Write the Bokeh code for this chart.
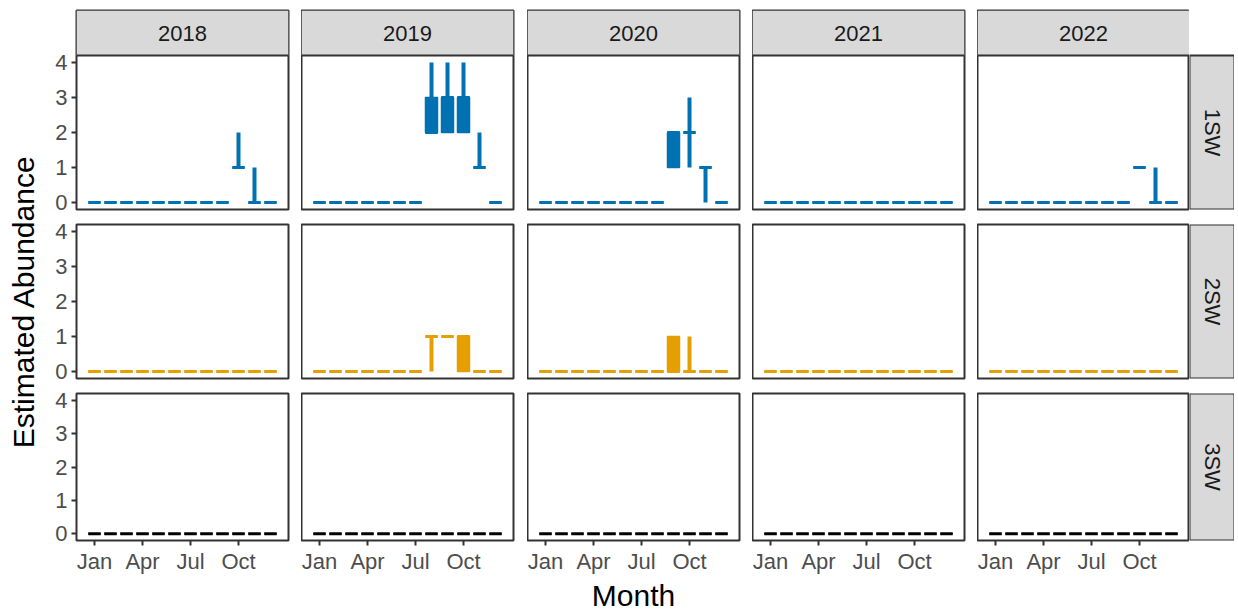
import math
from bokeh.plotting import figure
from bokeh.models import (ColumnDataSource, FixedTicker, Range1d, BoxAnnotation,
                          Span, Label)
from bokeh.layouts import row, column
from bokeh.embed import file_html
from bokeh.resources import INLINE
from bokeh.core.properties import value

# ---------------- data ----------------
years = [2018, 2019, 2020, 2021, 2022]
stages = ["1SW", "2SW", "3SW"]
stage_colors = ["#0072B2", "#E69F00", "#000000"]
month_index = [0, 1, 2, 3, 4, 5, 6, 7, 8, 9, 10, 11]
tick_months = [0, 3, 6, 9]
tick_labels = ["Jan", "Apr", "Jul", "Oct"]
y_ticks = [0, 1, 2, 3, 4]
y_title = "Estimated Abundance"
x_title = "Month"

zeros = [0, 0, 0, 0, 0, 0, 0, 0, 0, 0, 0, 0]

# 1SW
sw1_2018 = dict(lower=[0, 0, 0, 0, 0, 0, 0, 0, 0, 1, 0, 0],
                q1=[0, 0, 0, 0, 0, 0, 0, 0, 0, 1, 0, 0],
                med=[0, 0, 0, 0, 0, 0, 0, 0, 0, 1, 0, 0],
                q3=[0, 0, 0, 0, 0, 0, 0, 0, 0, 1, 0, 0],
                upper=[0, 0, 0, 0, 0, 0, 0, 0, 0, 2, 1, 0])
sw1_2019 = dict(lower=[0, 0, 0, 0, 0, 0, 0, 2, 2, 2, 1, 0],
                q1=[0, 0, 0, 0, 0, 0, 0, 2, 2, 2, 1, 0],
                med=[0, 0, 0, 0, 0, 0, 0, 2, 3, 3, 1, 0],
                q3=[0, 0, 0, 0, 0, 0, 0, 3, 3, 3, 1, 0],
                upper=[0, 0, 0, 0, 0, 0, 0, 4, 4, 4, 2, 0])
sw1_2020 = dict(lower=[0, 0, 0, 0, 0, 0, 0, 0, 1, 1, 0, 0],
                q1=[0, 0, 0, 0, 0, 0, 0, 0, 1, 2, 1, 0],
                med=[0, 0, 0, 0, 0, 0, 0, 0, 2, 2, 1, 0],
                q3=[0, 0, 0, 0, 0, 0, 0, 0, 2, 2, 1, 0],
                upper=[0, 0, 0, 0, 0, 0, 0, 0, 2, 3, 1, 0])
sw1_2021 = dict(lower=zeros, q1=zeros, med=zeros, q3=zeros, upper=zeros)
sw1_2022 = dict(lower=[0, 0, 0, 0, 0, 0, 0, 0, 0, 1, 0, 0],
                q1=[0, 0, 0, 0, 0, 0, 0, 0, 0, 1, 0, 0],
                med=[0, 0, 0, 0, 0, 0, 0, 0, 0, 1, 0, 0],
                q3=[0, 0, 0, 0, 0, 0, 0, 0, 0, 1, 0, 0],
                upper=[0, 0, 0, 0, 0, 0, 0, 0, 0, 1, 1, 0])

# 2SW
sw2_2018 = dict(lower=zeros, q1=zeros, med=zeros, q3=zeros, upper=zeros)
sw2_2019 = dict(lower=[0, 0, 0, 0, 0, 0, 0, 0, 1, 0, 0, 0],
                q1=[0, 0, 0, 0, 0, 0, 0, 1, 1, 0, 0, 0],
                med=[0, 0, 0, 0, 0, 0, 0, 1, 1, 1, 0, 0],
                q3=[0, 0, 0, 0, 0, 0, 0, 1, 1, 1, 0, 0],
                upper=[0, 0, 0, 0, 0, 0, 0, 1, 1, 1, 0, 0])
sw2_2020 = dict(lower=[0, 0, 0, 0, 0, 0, 0, 0, 0, 0, 0, 0],
                q1=[0, 0, 0, 0, 0, 0, 0, 0, 0, 0, 0, 0],
                med=[0, 0, 0, 0, 0, 0, 0, 0, 0, 0, 0, 0],
                q3=[0, 0, 0, 0, 0, 0, 0, 0, 1, 0, 0, 0],
                upper=[0, 0, 0, 0, 0, 0, 0, 0, 1, 1, 0, 0])
sw2_2021 = dict(lower=zeros, q1=zeros, med=zeros, q3=zeros, upper=zeros)
sw2_2022 = dict(lower=zeros, q1=zeros, med=zeros, q3=zeros, upper=zeros)

# 3SW
sw3_2018 = dict(lower=zeros, q1=zeros, med=zeros, q3=zeros, upper=zeros)
sw3_2019 = dict(lower=zeros, q1=zeros, med=zeros, q3=zeros, upper=zeros)
sw3_2020 = dict(lower=zeros, q1=zeros, med=zeros, q3=zeros, upper=zeros)
sw3_2021 = dict(lower=zeros, q1=zeros, med=zeros, q3=zeros, upper=zeros)
sw3_2022 = dict(lower=zeros, q1=zeros, med=zeros, q3=zeros, upper=zeros)

panels = [
    [sw1_2018, sw1_2019, sw1_2020, sw1_2021, sw1_2022],
    [sw2_2018, sw2_2019, sw2_2020, sw2_2021, sw2_2022],
    [sw3_2018, sw3_2019, sw3_2020, sw3_2021, sw3_2022],
]

# ---------------- layout / style ----------------
FONT = "Liberation Sans"
FRAME_W = 212
FRAME_H = 154
STRIP_H = 45
RSTRIP_W = 45
TITLE_W = 48
COL_LEFT = [28, 0, 0, 0, 0]
COL_RIGHT = [13, 14, 13, 13, 0]
ROW_TOP = [10, 8, 8]
ROW_BOTTOM = [7, 7, 67]
BORDER = "#333333"
STRIP_FILL = "#D9D9D9"
TICK_FONT = "22px"
STRIP_FONT = "22px"
TITLE_FONT = "30px"
X_LO, X_HI = -1.125, 12.125
Y_LO, Y_HI = -0.2, 4.2
Y_STRIP_TOP = Y_HI + (Y_HI - Y_LO) * STRIP_H / FRAME_H
TOTAL_H = sum(ROW_TOP) + sum(ROW_BOTTOM) + 3 * FRAME_H + STRIP_H


def base_fig(w, h, left, right, top, bottom, xr, yr, xloc=None, yloc=None,
             bg="white", outline=BORDER):
    p = figure(width=w, height=h, x_range=xr, y_range=yr,
               output_backend="svg", toolbar_location=None,
               min_border_left=left, min_border_right=right,
               min_border_top=top, min_border_bottom=bottom,
               x_axis_location=xloc, y_axis_location=yloc,
               background_fill_color=bg, border_fill_color="white",
               outline_line_color=outline, outline_line_width=2)
    p.grid.visible = False
    return p


def style_axis(ax):
    ax.major_label_text_font = FONT
    ax.major_label_text_font_size = TICK_FONT
    ax.major_label_text_color = "#4D4D4D"
    ax.major_tick_line_color = BORDER
    ax.major_tick_line_width = 2
    ax.major_tick_out = 5
    ax.major_tick_in = 0
    ax.minor_tick_line_color = None
    ax.axis_line_color = None
    ax.major_label_standoff = 4
    ax.axis_label_text_font = FONT
    ax.axis_label_text_font_size = TITLE_FONT
    ax.axis_label_text_font_style = "normal"
    ax.axis_label_text_color = "#000000"


# y-axis title column (screen-like coordinates, y downward)
title_fig = base_fig(TITLE_W, TOTAL_H, 0, 0, 0, 0,
                     Range1d(0, TITLE_W), Range1d(TOTAL_H, 0), outline=None)
mid_row_center = (ROW_TOP[0] + STRIP_H + FRAME_H + ROW_BOTTOM[0] + ROW_TOP[1]
                  + FRAME_H / 2)
title_fig.text(x=[23], y=[mid_row_center], text=[y_title], angle=math.pi / 2,
               text_align="center", text_baseline="middle",
               text_font=value(FONT), text_font_size=TITLE_FONT,
               text_color="#000000")

rows = []
for i, st in enumerate(stages):
    color = stage_colors[i]
    figs = []
    frame_h = FRAME_H + (STRIP_H if i == 0 else 0)
    h = ROW_TOP[i] + frame_h + ROW_BOTTOM[i]
    y_top = Y_STRIP_TOP if i == 0 else Y_HI
    for j, yr in enumerate(years):
        w = COL_LEFT[j] + FRAME_W + COL_RIGHT[j]
        d = panels[i][j]
        p = base_fig(w, h, COL_LEFT[j], COL_RIGHT[j], ROW_TOP[i], ROW_BOTTOM[i],
                     Range1d(X_LO, X_HI), Range1d(Y_LO, y_top),
                     xloc="below" if i == 2 else None,
                     yloc="left" if j == 0 else None)
        src = ColumnDataSource(dict(x=month_index, lower=d["lower"], q1=d["q1"],
                                    med=d["med"], q3=d["q3"], upper=d["upper"]))
        p.segment(x0="x", y0="lower", x1="x", y1="q1", line_color=color,
                  line_width=4, source=src)
        p.segment(x0="x", y0="q3", x1="x", y1="upper", line_color=color,
                  line_width=4, source=src)
        p.vbar(x="x", width=0.75, bottom="q1", top="q3", fill_color=color,
               line_color=color, line_width=1.5, source=src)
        p.rect(x="x", y="med", width=0.78, height=3, height_units="screen",
               fill_color=color, line_color=None, source=src)
        if i == 0:
            # facet strip (year) on top of the first row
            p.add_layout(BoxAnnotation(bottom=Y_HI, fill_color=STRIP_FILL,
                                       fill_alpha=1.0, line_color=None))
            p.add_layout(Span(location=Y_HI, dimension="width",
                              line_color=BORDER, line_width=2))
            p.add_layout(Label(x=(X_LO + X_HI) / 2, y=(Y_HI + Y_STRIP_TOP) / 2,
                               text=str(yr), text_align="center",
                               text_baseline="middle", text_font=FONT,
                               text_font_size=STRIP_FONT,
                               text_color="#1A1A1A"))
        if j == 0:
            ax = p.yaxis[0]
            style_axis(ax)
            ax.ticker = FixedTicker(ticks=y_ticks)
        if i == 2:
            ax = p.xaxis[0]
            style_axis(ax)
            ax.ticker = FixedTicker(ticks=tick_months)
            ax.major_label_overrides = {m: lab for m, lab in zip(tick_months, tick_labels)}
            ax.major_label_standoff = 3
            if j == 2:
                ax.axis_label = x_title
                ax.axis_label_standoff = 2
        figs.append(p)
    # right strip (stage); same borders as the row so the frames line up
    rs = base_fig(RSTRIP_W, h, 0, 0, ROW_TOP[i], ROW_BOTTOM[i],
                  Range1d(0, 1), Range1d(0, frame_h / FRAME_H), outline=None)
    rs.add_layout(BoxAnnotation(top=1.0, fill_color=STRIP_FILL, fill_alpha=1.0,
                                line_color=BORDER, line_alpha=1.0, line_width=2))
    rs.add_layout(Label(x=0.5, y=0.5, text=st, text_align="center",
                        text_baseline="middle", angle=-math.pi / 2,
                        text_font=FONT, text_font_size=STRIP_FONT,
                        text_color="#1A1A1A"))
    figs.append(rs)
    rows.append(row(*figs, spacing=0))

layout = row(title_fig, column(*rows, spacing=0), spacing=0)

open("out.html", "w").write(file_html(layout, INLINE))
